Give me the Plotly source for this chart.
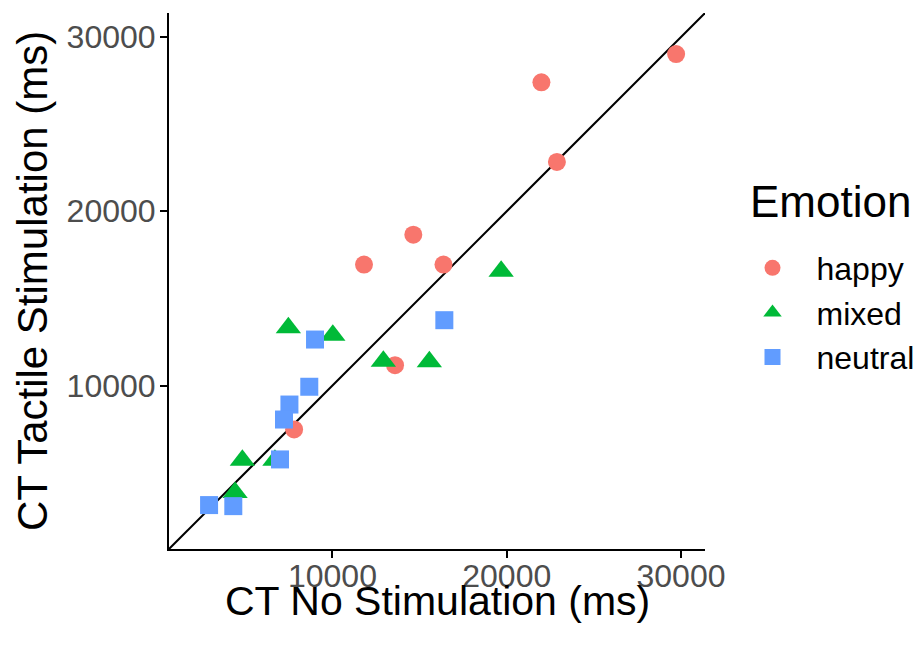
import plotly.graph_objects as go

# Data (ms)
happy_x = [11810, 14640, 16370, 13590, 7800, 21990, 22880, 29720]
happy_y = [16940, 18660, 16940, 11170, 7480, 27400, 22830, 29020]

mixed_x = [7470, 10020, 12920, 15560, 4830, 6700, 4410, 19680]
mixed_y = [13310, 12890, 11400, 11360, 5720, 5720, 3860, 16560]

neutral_x = [9000, 8670, 7530, 7220, 6990, 2920, 4310, 16420]
neutral_y = [12640, 9930, 8910, 8050, 5760, 3140, 3080, 13750]

axis_range = [620, 31378]
tick_vals = [10000, 20000, 30000]
tick_text = ["10000", "20000", "30000"]

FONT = "Liberation Sans, Arial, Helvetica, sans-serif"

fig = go.Figure()

# identity line
fig.add_trace(go.Scatter(
    x=axis_range, y=axis_range, mode="lines",
    line=dict(color="black", width=2), showlegend=False, hoverinfo="skip"))

fig.add_trace(go.Scatter(
    x=happy_x, y=happy_y, mode="markers", name="happy",
    marker=dict(symbol="circle", size=18, color="#F8766D", line=dict(width=0))))
fig.add_trace(go.Scatter(
    x=mixed_x, y=mixed_y, mode="markers", name="mixed",
    marker=dict(symbol="triangle-up", size=22, color="#00BA38", line=dict(width=0))))
fig.add_trace(go.Scatter(
    x=neutral_x, y=neutral_y, mode="markers", name="neutral",
    marker=dict(symbol="square", size=18, color="#619CFF", line=dict(width=0))))

axis_common = dict(
    range=axis_range, tickvals=tick_vals, ticktext=tick_text,
    showgrid=False, zeroline=False, showline=True, linecolor="black", linewidth=2,
    ticks="outside", ticklen=7, tickwidth=2, tickcolor="black",
    tickfont=dict(family=FONT, size=32, color="#4D4D4D"),
    automargin=False,
)

# plot area (figure coords; page adds an 8px body margin): x 161..697, y 5..541
L, T, W, H = 161, 5, 536, 536
FW, FH = 916, 638

def px(xfig):
    return (xfig - L) / W

def py(yfig):
    return (T + H - yfig) / H

fig.update_layout(
    width=FW, height=FH,
    margin=dict(l=L, r=FW - L - W, t=T, b=FH - T - H, pad=0, autoexpand=False),
    paper_bgcolor="white", plot_bgcolor="white",
    font=dict(family=FONT, color="black"),
    xaxis=dict(**axis_common, ticklabelstandoff=-9),
    yaxis=dict(**axis_common, ticklabelstandoff=-2),
    legend=dict(
        font=dict(family=FONT, size=32, color="black"),
        x=px(720.5), xanchor="left",
        y=py(232.5), yanchor="top",
        itemwidth=78, bgcolor="rgba(0,0,0,0)", borderwidth=0,
        tracegroupgap=0,
    ),
    showlegend=True,
    annotations=[
        dict(text="CT No Stimulation (ms)", xref="paper", yref="paper",
             x=0.5, y=py(593), xanchor="center", yanchor="middle",
             showarrow=False, font=dict(family=FONT, size=41, color="black")),
        dict(text="CT Tactile Stimulation (ms)", xref="paper", yref="paper",
             x=px(24), y=0.5, xanchor="center", yanchor="middle", textangle=-90,
             showarrow=False, font=dict(family=FONT, size=42, color="black")),
        dict(text="Emotion", xref="paper", yref="paper",
             x=px(740.4), y=py(193), xanchor="left", yanchor="middle",
             showarrow=False, font=dict(family=FONT, size=44, color="black")),
    ],
)

fig.write_html("out.html")
